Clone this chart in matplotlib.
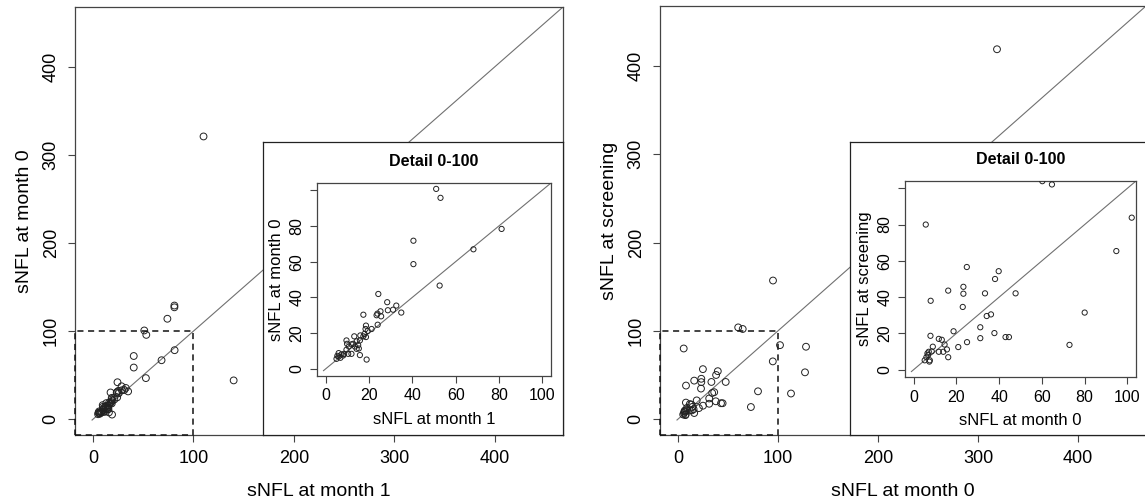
import matplotlib
matplotlib.use("Agg")
import matplotlib.pyplot as plt
from matplotlib.patches import Rectangle

plt.rcParams['font.family'] = ['Liberation Sans', 'DejaVu Sans']

# ---- data ----
# left panel: x = sNFL at month 1, y = sNFL at month 0
m1_x = [51.0, 53.0, 40.5, 40.5, 68.2, 81.2, 52.6, 24.3, 28.4, 32.6, 34.9, 28.7, 31.1,
        25.3, 23.9, 23.5, 17.4, 25.6, 24.0, 21.2, 19.4, 18.6, 18.4, 17.9, 18.6, 17.4,
        16.0, 13.2, 15.8, 14.3, 15.0, 15.3, 12.7, 11.9, 10.7, 9.6, 9.9, 9.6, 11.9, 15.8,
        18.9, 8.5, 7.3, 6.0, 5.4, 5.0, 6.8, 10.4, 6.0, 8.1, 14.3, 13.5,
        140, 81, 81, 74, 110]
m0_y = [100.7, 95.7, 71.7, 58.6, 66.9, 78.3, 46.6, 41.9, 37.3, 35.4, 31.5, 32.8, 33.1,
        32.2, 30.9, 30.0, 30.3, 29.4, 24.7, 22.3, 21.2, 24.2, 22.3, 19.5, 17.8, 18.2,
        18.7, 18.2, 15.9, 15.4, 13.3, 11.4, 14.0, 13.7, 12.5, 15.9, 14.0, 10.7, 8.4, 7.7,
        5.2, 8.4, 8.1, 8.8, 7.3, 5.6, 6.2, 8.4, 6.9, 7.5, 11.2, 12.5,
        44, 129, 127, 114, 321]

# right panel: x = sNFL at month 0, y = sNFL at screening
m0_x = [60.2, 64.7, 5.7, 102.0, 94.8, 24.9, 39.8, 38.1, 16.2, 23.3, 23.3, 33.4, 47.7,
        8.0, 23.0, 36.2, 34.2, 80.0, 31.2, 18.7, 7.9, 37.8, 31.2, 43.0, 44.6, 25.0, 20.9,
        72.9, 11.8, 13.2, 14.5, 9.0, 15.6, 11.8, 13.9, 16.2, 7.1, 8.5, 6.5, 6.8, 5.2,
        7.6, 7.4, 6.0,
        95, 128, 127, 113, 319]
scr_y = [103.9, 102.1, 80.0, 83.8, 65.4, 56.6, 54.3, 50.0, 43.6, 45.7, 41.9, 42.1, 42.1,
         38.0, 34.6, 30.5, 29.6, 31.5, 23.4, 21.2, 18.7, 20.2, 17.4, 18.0, 18.0, 15.2, 12.5,
         13.7, 17.0, 16.5, 13.9, 12.7, 11.2, 9.9, 9.9, 6.9, 9.9, 10.1, 9.0, 8.1, 5.2,
         5.2, 4.5, 6.9,
         157, 82, 53, 29, 419]

main_ticks = [0, 100, 200, 300, 400]
detail_ticks = [0, 20, 40, 60, 80, 100]

W, H = 1145, 501


def px_rect(x0, y0, x1, y1):
    """pixel box (top-left origin) -> figure fraction rect"""
    return [x0 / W, (H - y1) / H, (x1 - x0) / W, (y1 - y0) / H]


def style_axes(ax, fs, pad):
    for s in ax.spines.values():
        s.set_color('#444444')
        s.set_linewidth(0.9)
    ax.tick_params(direction='out', length=5, width=0.8, color='#444444',
                   labelsize=fs, pad=pad)
    ax.tick_params(axis='y', labelrotation=90)
    for lab in ax.get_yticklabels():
        lab.set_va('center')


def main_panel(fig, rect, x, y, xlabel, ylabel):
    ax = fig.add_axes(rect)
    lim = (-18, 468)
    ax.set_xlim(lim)
    ax.set_ylim(lim)
    ax.plot([-1, 470], [-1, 470], color='#707070', lw=0.8, zorder=1)
    ax.scatter(x, y, s=24, facecolors='none', edgecolors='#222222', linewidths=0.7, zorder=3)
    ax.add_patch(Rectangle((lim[0], lim[0]), 100 - lim[0], 100 - lim[0], fill=False,
                           ls=(0, (4, 3)), lw=1.1, ec='#111111', zorder=4, clip_on=False))
    ax.set_xticks(main_ticks)
    ax.set_yticks(main_ticks)
    style_axes(ax, 13, 6)
    ax.set_xlabel(xlabel, fontsize=14, labelpad=11)
    ax.set_ylabel(ylabel, fontsize=14, labelpad=7)
    return ax


def detail_panel(fig, outer, inner, x, y, xlabel, ylabel):
    box = fig.add_axes(outer)
    box.set_xticks([])
    box.set_yticks([])
    box.set_facecolor('white')
    for s in box.spines.values():
        s.set_color('#222222')
        s.set_linewidth(0.9)

    ax = fig.add_axes(inner)
    ax.set_xlim(-4, 104)
    ax.set_ylim(-4, 104)
    ax.plot([-1, 110], [-1, 110], color='#707070', lw=0.8, zorder=1)
    ax.scatter(x, y, s=14, facecolors='none', edgecolors='#222222', linewidths=0.7, zorder=3)
    ax.set_xticks(detail_ticks)
    ax.set_yticks(detail_ticks)
    ax.set_yticklabels(['0', '20', '40', '60', '80', ''])
    style_axes(ax, 11.5, 4)
    ax.set_xlabel(xlabel, fontsize=12, labelpad=6)
    ax.set_ylabel(ylabel, fontsize=12, labelpad=4)
    ax.set_title('Detail 0-100', fontsize=11.5, fontweight='bold', pad=12)
    return ax


fig = plt.figure(figsize=(W / 100, H / 100), dpi=100)

main_panel(fig, px_rect(75, 7, 563, 435), m1_x, m0_y, 'sNFL at month 1', 'sNFL at month 0')
detail_panel(fig, px_rect(263, 142, 563, 435), px_rect(317, 183, 551, 376),
             m1_x, m0_y, 'sNFL at month 1', 'sNFL at month 0')

main_panel(fig, px_rect(660, 6, 1146, 435), m0_x, scr_y, 'sNFL at month 0', 'sNFL at screening')
detail_panel(fig, px_rect(850, 142, 1146, 435), px_rect(905, 181, 1136, 377),
             m0_x, scr_y, 'sNFL at month 0', 'sNFL at screening')

fig.savefig('out.png', dpi=100)
